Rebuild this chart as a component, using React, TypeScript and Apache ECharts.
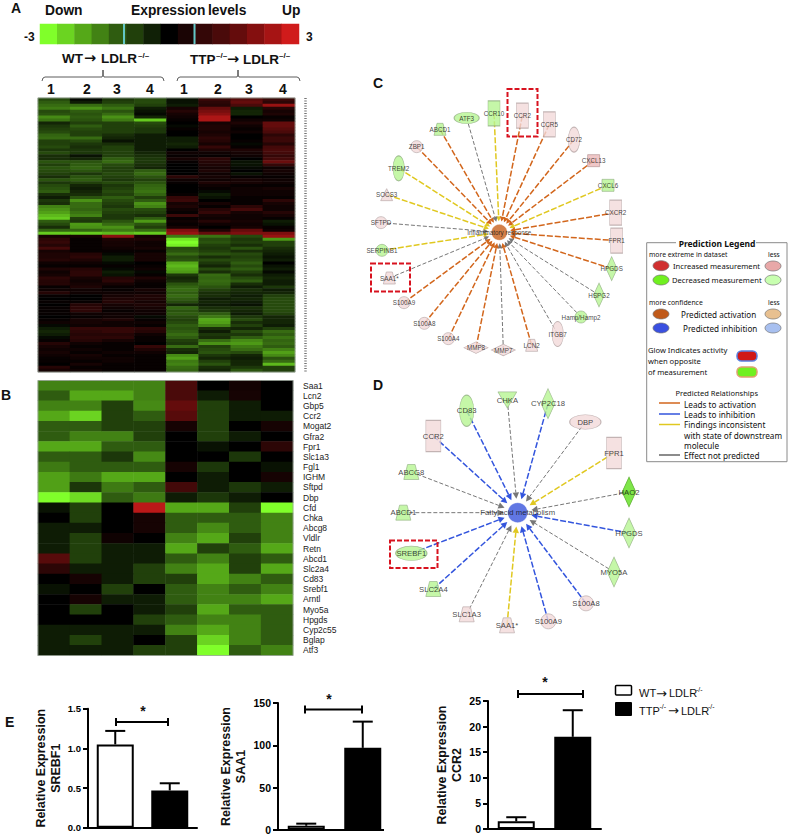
import React, { useEffect, useRef } from "react";
import * as echarts from "echarts";

const SANS = "'Liberation Sans', Arial, sans-serif";
const TAHOMA = "'Noto Sans', sans-serif";
const ARROW = "'DejaVu Sans', sans-serif";

// ---------- colour key ----------
const keyValues = [-3, -2.5, -2, -1.5, -1, -0.7, -0.35, 0, 0.35, 0.7, 1, 1.4, 1.9, 2.4, 3];

// ---------- panel A, tenths of a log unit, rows top to bottom, 8 mice ----------
const heatRowsA = [
  [-8,-1,-6,-8,-2,8,12,8],[-10,-3,-7,-8,-2,6,14,6],[-12,-12,-10,-7,-3,5,10,22],[-14,-17,-13,-3,3,14,-3,5],
  [-8,-10,-9,-2,5,17,-4,3],[-9,-9,-12,-1,3,20,-4,4],[-16,-10,-17,-4,2,25,0,1],[-13,-9,-14,-24,1,25,2,2],
  [-4,-7,-7,-8,0,3,4,14],[-6,-10,-7,-7,-1,4,2,14],[-7,-8,-7,-6,1,4,1,12],[-8,-7,-7,-6,0,3,2,10],
  [-11,-7,-5,-3,0,4,0,6],[-12,-12,-4,-3,-3,6,0,8],[-7,-8,-2,-3,-3,5,1,8],[-7,-6,-5,-3,-4,3,-1,5],
  [-8,-5,-7,-3,-3,7,1,9],[-6,-6,-7,-3,0,4,4,10],[-8,-6,-7,-4,2,2,3,9],[-5,-2,-7,-5,1,1,2,7],
  [-5,-4,-10,-6,3,6,0,9],[-9,-9,-12,-6,1,5,-2,15],[-7,-10,-8,-5,0,4,-2,7],[-9,-11,-7,-4,0,3,-1,2],
  [-8,-9,-7,-10,0,4,0,3],[-7,-6,-8,-12,0,2,-2,2],[-5,-9,-7,-9,6,3,1,1],[-9,-10,-6,-7,2,2,3,2],
  [-6,-7,-8,-9,1,4,3,2],[-8,-4,-6,-11,0,2,1,1],[-9,-3,-7,-12,0,1,2,3],[-10,-4,-8,-13,0,-1,2,2],
  [-5,-5,-7,-11,1,-3,2,2],[-3,-9,-10,-7,7,-2,1,1],[-6,-17,-8,-10,8,0,1,6],[-5,-12,-7,-17,3,3,1,3],
  [-15,-12,-6,-15,4,1,6,2],[-17,-11,-8,-8,2,5,9,2],[-19,-13,-7,-7,1,7,3,5],[-22,-15,-6,-5,8,3,2,3],
  [-24,-7,-6,-10,1,2,2,1],[-10,-6,-9,-18,2,5,3,-3],[-8,-18,-12,-9,1,2,2,-2],[-5,-17,-17,-7,3,0,3,1],
  [-11,-11,-14,-12,18,4,14,2],[-24,-24,-22,-24,22,14,18,18],[3,3,20,3,-14,-13,-8,22],[6,1,4,4,-27,-8,-6,-18],
  [7,1,3,2,-30,-9,-7,-7],[5,1,3,2,-28,-7,-5,-7],[9,1,2,3,-8,-6,-9,-5],[3,1,1,1,-9,-7,-5,-4],
  [4,5,-1,3,-12,-9,-8,-3],[4,6,-3,3,-8,-5,-7,-2],[5,4,-3,3,-9,-8,-8,-3],[2,2,-1,0,-20,-6,-10,0],
  [1,1,1,1,-22,-4,-8,-2],[4,5,-1,2,-20,-8,-10,-3],[2,6,-3,-1,-18,-5,-7,-1],[3,6,-2,1,-6,-12,-5,-3],
  [6,3,5,4,-4,-11,-8,-4],[5,2,6,2,-5,-12,-10,-3],[5,3,3,1,-9,-11,-5,-3],[1,4,1,1,-11,-9,-3,-6],
  [2,2,1,3,-12,-7,-5,-3],[5,2,2,2,-10,-5,-4,-4],[1,0,3,4,-12,-5,-3,-7],[0,0,4,4,-10,-3,-4,-8],
  [1,1,5,3,-8,-4,-3,-8],[0,5,3,4,-4,-3,-2,-8],[1,6,2,3,-11,-5,-5,-8],[1,6,1,2,-9,-6,-4,-8],
  [1,2,2,2,-10,-10,-3,-7],[0,1,2,-1,-8,-14,-6,-4],[1,3,4,1,-7,-20,-8,-4],[2,3,2,2,-8,-19,-5,-4],
  [-1,2,2,1,-10,-15,-7,-3],[-3,7,7,6,-9,-5,-4,-7],[-4,6,7,5,-10,-3,-8,-12],[-3,5,5,2,-12,-6,-6,-10],
  [-1,6,6,1,-10,-5,-10,-13],[1,5,3,1,-7,-12,-16,-11],[5,2,1,0,-6,-17,-18,-12],[3,1,1,7,-12,-7,-14,-10],
  [2,2,1,4,-5,-8,-12,-15],[3,1,2,2,-4,-9,-8,-19],[2,3,1,1,-16,-6,-4,-16],[1,2,2,1,-19,-4,-3,-9],
  [1,1,2,1,-14,-7,-4,-12],[0,3,1,1,-15,-9,-4,-22],[5,1,1,1,-12,-5,-6,-7],[3,2,1,1,-11,-4,-9,-7],
];

// ---------- panel B ----------
const genesB = ["Saa1","Lcn2","Gbp5","Ccr2","Mogat2","Gfra2","Fpr1","Slc1a3","Fgl1","IGHM","Sftpd","Dbp","Cfd","Chka","Abcg8","Vldlr","Retn","Abcd1","Slc2a4","Cd83","Srebf1","Arntl","Myo5a","Hpgds","Cyp2c55","Bglap","Atf3"];
const heatRowsB = [
  [-1.5,-1.5,-1.5,-1.5,1,0,0.25,0],
  [-1,-2,-2,-1.5,1,-0.3,0.3,0],
  [-1.5,-1.5,-0.7,-1.6,1.4,-0.7,-0.3,0],
  [-2,-2.5,-0.7,-1,1.2,-0.7,-0.3,-0.3],
  [-1,-1,-0.7,-0.7,0.3,-0.7,0,0.3],
  [-1,-1.5,-1.5,-0.7,0,-0.7,-0.3,0],
  [-2,-2,-1,-1,0,-0.2,0,0.6],
  [-1,-1,-0.6,-1.6,0,0,-0.6,0],
  [-1.4,-1,-1,-1,0.3,-0.6,0,-0.2],
  [-1.9,-1.4,-2,-2,0,-0.3,0,0.3],
  [-1.9,-0.6,-1.4,-1,0.9,-0.3,-0.6,-0.3],
  [-3,-2.6,-1,-1.4,-0.3,-0.6,-0.3,0],
  [-0.2,-0.7,0,2.7,-2,-2,-0.7,-3],
  [0,-0.7,0,0.3,-1,-1,-1,-1.5],
  [-0.3,-0.3,0,0.3,-1,-1.6,-1,-1.5],
  [-0.3,-0.7,0.2,0,-1.5,-2,-0.7,-1.5],
  [-0.3,-0.7,-0.3,-0.3,-2,-0.7,-1,-2],
  [1.2,-0.7,-0.3,-0.3,-1,-1.5,-0.7,-1],
  [0.6,-0.3,-0.3,-0.7,-1.5,-2,-0.7,-2],
  [0,0.3,-0.3,-0.7,-0.7,-2,-1.5,-1],
  [-0.2,0,-0.7,0,-1,-1.5,-1,-1.5],
  [0,0.3,-0.3,-0.3,-1,-1.5,-1.5,-2],
  [0,-0.7,0,-0.3,-0.7,-2,-1,-1],
  [0,0,0,-0.7,-1,-1.5,-1.5,-1],
  [-0.3,-0.3,-0.3,-0.3,-1.5,-2,-1.5,-1],
  [-0.3,-0.7,-0.3,0,-0.7,-2.5,-1.5,-1],
  [-0.3,-0.3,-0.3,-0.7,-0.7,-3,-1,-1.5],
];

// ---------- networks C and D ----------
const hubC = [478, 487];
const namesC = ["CCR10","CCR2","CCR5","CD72","CXCL13","CXCL6","CXCR2","FPR1","HPGDS","HSPG2","Hamp/Hamp2","ITGB7","LCN2","MMP7","MMP8","S100A4","S100A8","S100A9","SAA1*","SERPINB1","SFTPD","SOCS3","TREM2","ZBP1","ABCD1","ATF3"];
const xC = [462,547,628,702,761,804,827,830,815,777,723,653,575,490,408,325,253,192,148,126,123,140,176,230,300,380];
const yC = [130,137,163,209,272,346,428,512,596,675,741,792,826,840,833,806,760,698,624,541,458,374,295,230,178,144];
const shapesC = ["tall","tall","tall","tallEllipse","box","box","tall","tall","tallDiamond","tallDiamond","dot","tallEllipse","trap","wideDiamond","wideDiamond","dot","dot","dot","trap","dot","dot","tri","tallEllipse","dot","trap","wideEllipse"];
const foldC = ["g","p","p","p","d","g","p","p","g","g","g","p","p","p","p","p","p","p","p","g","p","p","g","p","g","g"];
const relC = ["y","o","o","o","o","y","o","o","o","n","n","n","o","n","o","o","o","o","n","y","n","y","y","o","o","n"];

const hubD = [533, 428];
const namesD = ["CHKA","CYP2C18","DBP","FPR1","HAO2","HPGDS","MYO5A","S100A8","S100A9","SAA1*","SLC1A3","SLC2A4","SREBF1","ABCD1","ABCG8","CCR2","CD83"];
const xD = [502,624,736,822,867,867,822,738,625,501,380,280,214,190,214,280,380];
const yD = [90,101,156,249,366,489,606,700,754,766,733,657,550,428,306,198,122];
const shapesD = ["triDown","tallDiamond","wideEllipse","tall","tallDiamond","tallDiamond","tallDiamond","dot","dot","trap","trap","trap","wideEllipse","trap","trap","tall","tallEllipse"];
const foldD = ["g","g","p","p","s","g","g","p","p","p","p","g","g","g","g","p","g"];
const relD = ["n","b","n","y","n","b","n","b","b","y","n","b","b","n","n","b","b"];

// ---------- panel E ----------
const groups = ["WT→LDLR-/-", "TTP-/-→LDLR-/-"];
const srebf1 = [1.05, 0.47];
const srebf1Err = [1.22, 0.56];
const saa1 = [5, 97];
const saa1Err = [7.5, 128];
const ccr2 = [1.5, 18];
const ccr2Err = [2.3, 23.2];

// ---------- styles ----------
const ELL = "path://M0 50A50 50 0 1 1 100 50A50 50 0 1 1 0 50Z";
const TRAP = "path://M25 0H75L100 100H0Z";
const TRID = "path://M0 0H100L50 100Z";
const shapeStyle: any = {
  tall: ["rect", [12, 25]], tallEllipse: [ELL, [11.5, 25]], tallDiamond: ["diamond", [11, 24]],
  wideDiamond: ["diamond", [24, 11.5]], wideEllipse: [ELL, [25, 11.5]], box: ["rect", [12, 12]],
  dot: ["circle", [12, 12]], trap: [TRAP, [12, 12]], tri: ["triangle", [12, 12]], triDown: [TRID, [15, 13]],
};
const foldStyle: any = {
  g: ["#b6f592", "#93b085"], p: ["#f3dada", "#b5a5a5"], d: ["#ecb9b9", "#b09090"], s: ["#5ee01c", "#4fa020"],
};
const relStyle: any = {
  o: ["#d2661c", 1.5, [6, 2]], b: ["#3355dd", 1.5, [6, 2]], y: ["#e0c820", 1.5, [6, 2]], n: ["#777777", 1, [4, 2]],
};

function network(gi: number, names: string[], xs: number[], ys: number[], shapes: string[], folds: string[], rels: string[], hub: number[], hubName: string, hubColor: string, hubSize: number, ring: number, font: number, scale: number) {
  const edges = {
    type: "custom", xAxisIndex: gi, yAxisIndex: gi, z: 3, clip: false, silent: true,
    data: xs.map((x, i) => [x, ys[i], "obyn".indexOf(rels[i])]),
    encode: { x: 0, y: 1 },
    renderItem: (_: any, api: any) => {
      const p = api.coord([api.value(0), api.value(1)]);
      const h = api.coord(hub);
      const [stroke, lw, dash] = relStyle["obyn"[api.value(2)]];
      const dx = p[0] - h[0], dy = p[1] - h[1];
      const len = Math.hypot(dx, dy);
      const ux = dx / len, uy = dy / len;
      const tip = [h[0] + ux * ring, h[1] + uy * ring];
      const a = 5 * scale, b = 2.6 * scale;
      const base = [tip[0] + ux * a, tip[1] + uy * a];
      return {
        type: "group",
        children: [
          { type: "line", shape: { x1: p[0], y1: p[1], x2: base[0], y2: base[1] }, style: { stroke, lineWidth: lw, lineDash: dash, fill: null } },
          { type: "polygon", shape: { points: [tip, [base[0] - uy * b, base[1] + ux * b], [base[0] + uy * b, base[1] - ux * b]] }, style: { fill: stroke } },
        ],
      };
    },
  };
  const nodes = {
    type: "scatter", xAxisIndex: gi, yAxisIndex: gi, z: 4, silent: true,
    label: { show: true, position: "inside", formatter: "{b}", color: "#111", fontSize: font, fontFamily: SANS },
    data: [
      ...names.map((n, i) => {
        const [sym, size] = shapeStyle[shapes[i]];
        const [fill, border] = foldStyle[folds[i]];
        return {
          name: n, value: [xs[i], ys[i]], symbol: sym,
          symbolSize: size.map((s: number) => s * scale),
          itemStyle: { color: fill, borderColor: border, borderWidth: 0.8 },
        };
      }),
      { name: hubName, value: hub, symbol: "circle", symbolSize: hubSize, itemStyle: { color: hubColor, borderColor: "#ffffff", borderWidth: 0.5 } },
    ],
  };
  return [edges, nodes];
}

function whisker(gi: number, values: number[], tops: number[]) {
  return {
    type: "custom", xAxisIndex: gi, yAxisIndex: gi, z: 5, clip: false, silent: true,
    data: values.map((v, i) => [i, v, tops[i]]),
    encode: { x: 0, y: [1, 2] },
    renderItem: (_: any, api: any) => {
      const a = api.coord([api.value(0), api.value(1)]);
      const b = api.coord([api.value(0), api.value(2)]);
      const s = { stroke: "#000", lineWidth: 2 };
      return {
        type: "group",
        children: [
          { type: "line", shape: { x1: a[0], y1: a[1], x2: b[0], y2: b[1] }, style: s },
          { type: "line", shape: { x1: b[0] - 10, y1: b[1], x2: b[0] + 10, y2: b[1] }, style: s },
        ],
      };
    },
  };
}

const bar = (gi: number, values: number[]) => ({
  type: "bar", xAxisIndex: gi, yAxisIndex: gi, barWidth: 37, silent: true, z: 4,
  data: values.map((v, i) => ({
    value: v,
    itemStyle: i === 0 ? { color: "#fff", borderColor: "#000", borderWidth: 2 } : { color: "#000", borderColor: "#000", borderWidth: 0 },
  })),
});

// graphic helpers
const T = (text: string, x: number, y: number, size: number, o: any = {}) => ({
  type: "text", x, y, z: 20, silent: true,
  style: { text, fontSize: size, fontFamily: o.font || SANS, fontWeight: o.bold ? "bold" : "normal", fill: o.fill || "#111", align: o.align || "left", verticalAlign: "middle" },
});
const L = (x1: number, y1: number, x2: number, y2: number, stroke: string, lineWidth: number, dash?: number[]) => ({
  type: "line", z: 20, silent: true, shape: { x1, y1, x2, y2 }, style: { stroke, lineWidth, lineDash: dash },
});
const R = (x: number, y: number, width: number, height: number, style: any, r = 0) => ({
  type: "rect", z: 20, silent: true, shape: { x, y, width, height, r }, style,
});
const Ell = (cx: number, cy: number, fill: string) => ({
  type: "ellipse", z: 20, silent: true, shape: { cx, cy, rx: 8, ry: 5 }, style: { fill, stroke: "#777", lineWidth: 0.7 },
});
const brace = (x1: number, xm: number, x2: number) => ({
  type: "polyline", z: 20, silent: true,
  shape: { points: [[x1, 81], [x1 + 1, 78], [x1 + 3, 77], [xm - 1, 77], [xm, 75], [xm, 70], [xm, 75], [xm + 1, 77], [x2 - 3, 77], [x2 - 1, 78], [x2, 81]] },
  style: { stroke: "#333", lineWidth: 0.8, fill: null },
});
const bracket = (x1: number, x2: number, y: number) => [
  L(x1, y, x2, y, "#000", 2), L(x1, y - 4, x1, y + 4, "#000", 2), L(x2, y - 4, x2, y + 4, "#000", 2),
];
const redBox = (x: number, y: number, width: number, height: number) =>
  R(x, y, width, height, { fill: null, stroke: "#d8121f", lineWidth: 2, lineDash: [5, 2] });

const heatData = (rows: number[][], f = 1) => rows.flatMap((r, y) => r.map((v, x) => [x, y, v * f]));
const idx = (n: number) => Array.from({ length: n }, (_, i) => String(i));

const heatAxisX = (gi: number, n: number) => ({ type: "category", gridIndex: gi, data: idx(n), show: false });
const hiddenY = (gi: number, n: number) => ({ type: "category", gridIndex: gi, data: idx(n), show: false, inverse: true });
const netX = (gi: number) => ({ type: "value", gridIndex: gi, min: 0, max: 900, show: false });
const netY = (gi: number) => ({ type: "value", gridIndex: gi, min: 0, max: 900, show: false, inverse: true });
const catX = (gi: number, showLine = true) => ({
  type: "category", gridIndex: gi, data: groups, axisTick: { show: false }, axisLabel: { show: false },
  axisLine: { show: showLine, lineStyle: { color: "#000", width: 2 } },
});
const valY = (gi: number, max: number, interval: number, gap: number, name: string, dec = 0, size = 10.5) => ({
  type: "value", gridIndex: gi, min: 0, max, interval, splitLine: { show: false },
  axisLine: { show: true, lineStyle: { color: "#000", width: 2 } },
  axisTick: { show: true, length: 5, lineStyle: { color: "#000", width: 2 } },
  axisLabel: { color: "#000", fontSize: size, fontWeight: "bold", fontFamily: SANS, margin: 7, formatter: (v: number) => v.toFixed(dec) },
  name, nameLocation: "middle", nameRotate: 90, nameGap: gap,
  nameTextStyle: { color: "#111", fontSize: 12.5, fontWeight: "bold", fontFamily: SANS, lineHeight: 15 },
});

const option: any = {
  animation: false,
  backgroundColor: "#fff",
  visualMap: {
    show: false, type: "continuous", min: -3, max: 3, dimension: 2, seriesIndex: [0, 1, 2],
    inRange: { color: ["#80ff2a", "#55a818", "#2f5c10", "#000000", "#4a0a0a", "#8a1010", "#d01b1b"] },
  },
  grid: [
    { left: 40, top: 24, width: 259, height: 20 },
    { left: 38, top: 98, width: 257, height: 274 },
    { left: 38, top: 380.5, width: 255, height: 275 },
    { left: 340, top: 70, width: 300, height: 300 },
    { left: 340, top: 370, width: 300, height: 300 },
    { left: 88, top: 708.7, width: 109, height: 119 },
    { left: 278, top: 703, width: 113, height: 127 },
    { left: 488, top: 701, width: 113, height: 128 },
  ],
  xAxis: [
    heatAxisX(0, keyValues.length), heatAxisX(1, 8), heatAxisX(2, 8),
    netX(3), netX(4), catX(5), catX(6, false), catX(7),
  ],
  yAxis: [
    hiddenY(0, 1), hiddenY(1, heatRowsA.length),
    {
      type: "category", gridIndex: 2, data: genesB, inverse: true, position: "right",
      axisLine: { show: false }, axisTick: { show: false },
      axisLabel: { color: "#222", fontSize: 8.5, fontFamily: SANS, margin: 10, interval: 0, padding: [4, 0, 0, 0] },
    },
    netY(3), netY(4),
    valY(5, 1.5, 0.5, 22, "Relative Expression\nSREBF1", 1, 9.5),
    valY(6, 150, 50, 30, "Relative Expression\nSAA1"),
    valY(7, 25, 5, 24, "Relative Expression\nCCR2"),
  ],
  series: [
    { type: "heatmap", xAxisIndex: 0, yAxisIndex: 0, silent: true, data: keyValues.map((v, i) => [i, 0, v]) },
    { type: "heatmap", xAxisIndex: 1, yAxisIndex: 1, silent: true, data: heatData(heatRowsA, 0.1) },
    { type: "heatmap", xAxisIndex: 2, yAxisIndex: 2, silent: true, data: heatData(heatRowsB) },
    ...network(3, namesC, xC, yC, shapesC, foldC, relC, hubC, "Inflammatory response", "#c8601b", 16, 11, 6.3, 1),
    ...network(4, namesD, xD, yD, shapesD, foldD, relD, hubD, "Fatty acid metabolism", "#3a55dc", 20, 14, 7.7, 1.25),
    bar(5, srebf1), whisker(5, srebf1, srebf1Err),
    bar(6, saa1), whisker(6, saa1, saa1Err),
    bar(7, ccr2), whisker(7, ccr2, ccr2Err),
  ],
  graphic: [
    // panel letters
    T("A", 11, 8, 14, { bold: true }), T("B", 1, 395, 14, { bold: true }),
    T("C", 373, 83, 14, { bold: true }), T("D", 373, 385, 14, { bold: true }), T("E", 5, 722, 14, { bold: true }),
    // colour key captions
    T("Down", 45, 10, 13.8, { bold: true }), T("Expression", 131, 10, 13.8, { bold: true }), T("levels", 208, 10, 13.8, { bold: true }),
    T("Up", 282, 10, 13.8, { bold: true }), T("-3", 24, 37, 12, { bold: true }), T("3", 306, 37, 12, { bold: true }),
    L(124, 24, 124, 44, "#62c6c6", 2), L(194.5, 24, 194.5, 44, "#62c6c6", 2),
    // group captions
    T("WT", 62, 58, 13.5, { bold: true }), T("→", 84, 58, 14.5, { bold: true, font: ARROW }), T("LDLR", 101, 58, 13.5, { bold: true }), T("–/–", 138, 55, 8, { bold: true }),
    T("TTP", 190, 59, 13.5, { bold: true }), T("–/–", 216, 55, 8, { bold: true }),
    T("→", 227, 59, 14.5, { bold: true, font: ARROW }), T("LDLR", 243, 59, 13.5, { bold: true }), T("–/–", 279, 55, 8, { bold: true }),
    brace(42, 103, 164), brace(177, 238, 300),
    ...[[51, "1"], [87, "2"], [117, "3"], [150, "4"], [184, "1"], [218, "2"], [249, "3"], [283, "4"]].map(([x, s]: any) =>
      T(s, x, 89, 14, { bold: true, align: "center" })),
    // heatmap frames and the unreadable row labels of A
    R(38, 98, 257, 274, { fill: null, stroke: "#9aa59a", lineWidth: 0.8 }),
    R(38, 380.5, 255, 275, { fill: null, stroke: "#9aa59a", lineWidth: 0.8 }),
    L(305.5, 98, 305.5, 372, "#777", 2.5, [1, 1.5]),
    // red call-outs
    redBox(507.5, 89, 30, 47.5), redBox(371, 263.5, 39, 28), redBox(390, 540.5, 47.5, 27.5),
    // prediction legend
    R(646.7, 242.7, 140.3, 219, { fill: "#fff", stroke: "#8a8a8a", lineWidth: 1 }),
    R(676, 238, 80, 10, { fill: "#fff" }),
    T("Prediction Legend", 717, 243, 8.5, { bold: true, font: TAHOMA, align: "center" }),
    T("more extreme in dataset", 649, 254, 6.8, { font: TAHOMA }), T("less", 768, 254, 6.6, { font: TAHOMA }),
    Ell(661, 265.7, "#d03030"), T("Increased measurement", 673, 265.5, 7.6, { font: TAHOMA }), Ell(773, 266, "#e8a8a8"),
    Ell(661, 280, "#70f020"), T("Decreased measurement", 672, 280, 7.6, { font: TAHOMA }), Ell(773, 280, "#c8ffb0"),
    T("more confidence", 649, 302, 6.8, { font: TAHOMA }), T("less", 768, 302, 6.6, { font: TAHOMA }),
    Ell(661, 314, "#c05a1a"), T("Predicted activation", 681, 314, 8.1, { font: TAHOMA }), Ell(773, 314, "#e8c090"),
    Ell(661, 328, "#3a50e0"), T("Predicted inhibition", 683, 328, 8.1, { font: TAHOMA }), Ell(773, 328, "#a8c0f0"),
    T("Glow Indicates activity", 648, 350, 7.6, { font: TAHOMA }), T("when opposite", 648, 361, 7.6, { font: TAHOMA }), T("of measurement", 648, 372, 7.6, { font: TAHOMA }),
    R(737, 351, 20, 10, { fill: "#d01818", stroke: "#5a80e0", lineWidth: 1.5 }, 4.5),
    R(737, 367, 20, 10, { fill: "#70f020", stroke: "#e0a070", lineWidth: 1.5 }, 4.5),
    T("Predicted Relationships", 716.7, 393, 7.5, { font: TAHOMA, align: "center" }),
    L(659, 403, 680, 403, "#d2661c", 1.5), T("Leads to activation", 684, 404, 8.2, { font: TAHOMA }),
    L(659, 414, 680, 414, "#3355dd", 1.5), T("Leads to inhibition", 684, 414, 8.2, { font: TAHOMA }),
    L(659, 424.5, 680, 424.5, "#e0c820", 1.5), T("Findings inconsistent", 684, 424, 8.2, { font: TAHOMA }),
    T("with state of downstream", 684, 435, 8.2, { font: TAHOMA }), T("molecule", 684, 445, 8.2, { font: TAHOMA }),
    L(659, 455, 680, 455, "#666", 1.5), T("Effect not predicted", 684, 455, 8.2, { font: TAHOMA }),
    // panel E annotations
    L(278, 830, 384, 830, "#000", 2),
    ...bracket(116, 168, 722), T("*", 143, 711, 14, { bold: true, align: "center" }),
    ...bracket(305, 362, 709.5), T("*", 329, 699, 14, { bold: true, align: "center" }),
    ...bracket(518, 583, 694), T("*", 545, 682, 14, { bold: true, align: "center" }),
    R(615.5, 685.5, 16, 9.5, { fill: "#fff", stroke: "#000", lineWidth: 1.5 }, 1),
    R(615, 702, 17, 14, { fill: "#000" }, 1),
    T("WT", 639, 693, 11), T("→", 656, 693, 13, { font: ARROW }), T("LDLR", 669, 693, 11), T("-/-", 696, 689, 7),
    T("TTP", 639, 710.5, 11), T("-/-", 659.5, 706, 7), T("→", 668, 710.5, 13, { font: ARROW }), T("LDLR", 681, 710.5, 11), T("-/-", 708, 706, 7),
  ],
};

export default function App() {
  const ref = useRef<HTMLDivElement>(null);
  useEffect(() => {
    const chart = echarts.init(ref.current!, null, { renderer: "svg" });
    chart.setOption(option);
    return () => chart.dispose();
  }, []);
  return <div ref={ref} style={{ position: "absolute", left: 0, top: 0, width: 789, height: 836 }} />;
}
